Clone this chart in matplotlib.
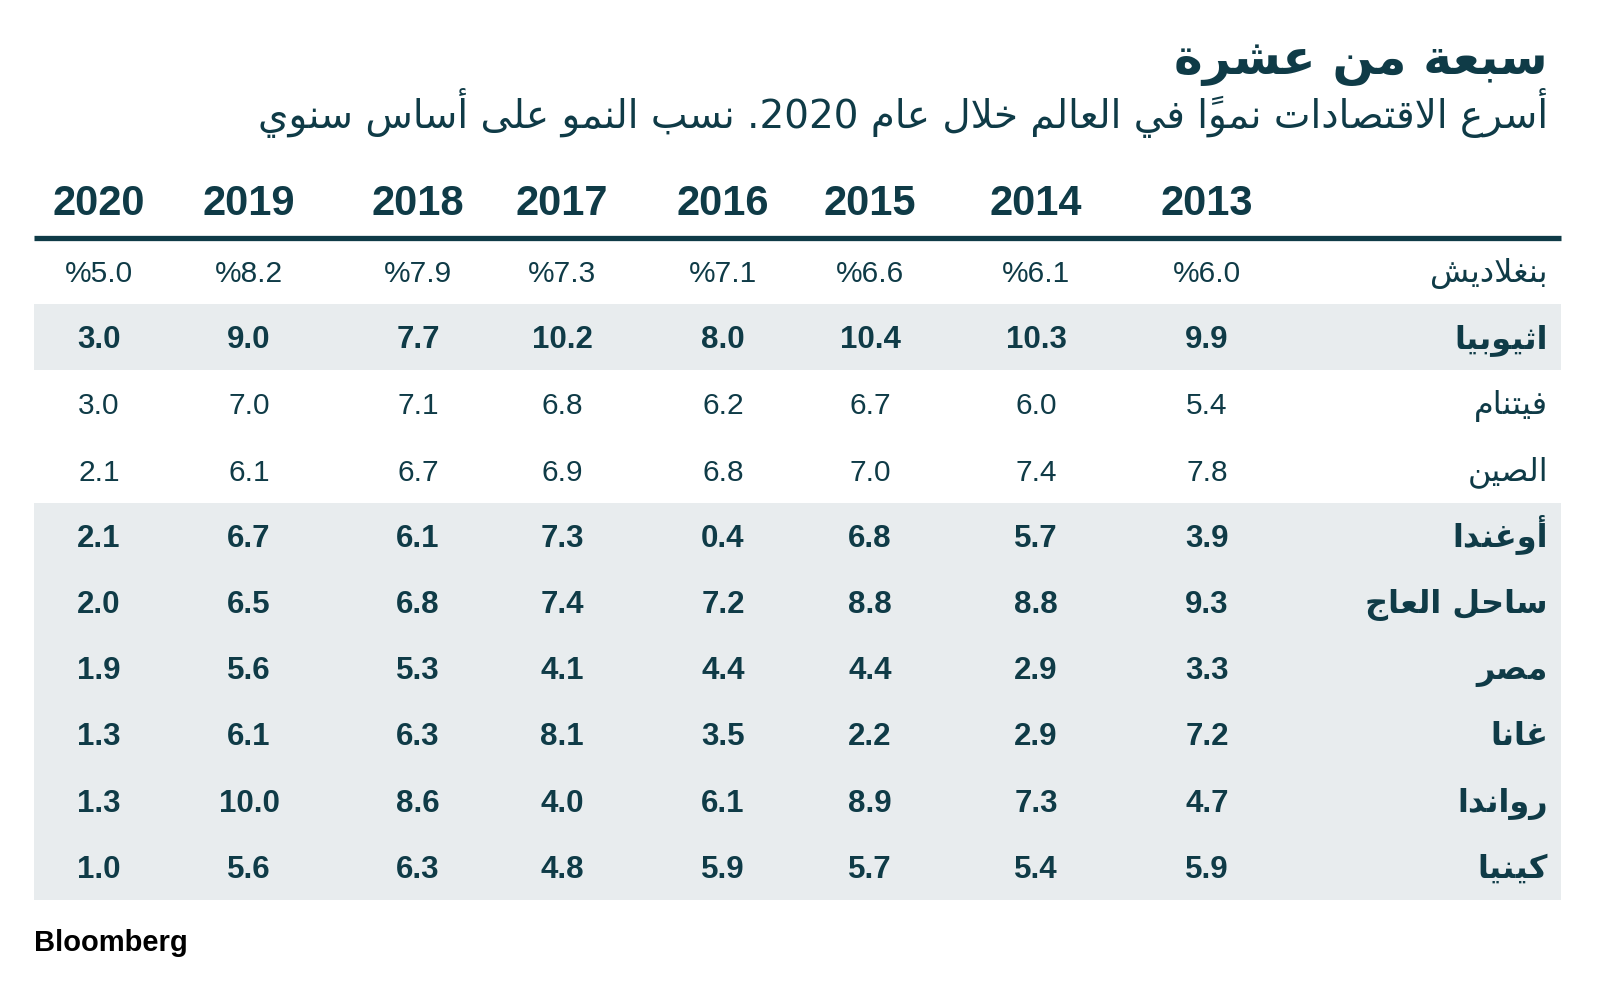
import matplotlib
matplotlib.use("Agg")
import matplotlib.pyplot as plt

# ---------------- data ----------------
title = "سبعة من عشرة"
subtitle = "أسرع الاقتصادات نمواً في العالم خلال عام 2020. نسب النمو على أساس سنوي"
years = [2013, 2014, 2015, 2016, 2017, 2018, 2019, 2020]
countries = ["بنغلاديش", "اثيوبيا", "فيتنام", "الصين", "أوغندا",
             "ساحل العاج", "مصر", "غانا", "رواندا", "كينيا"]
bangladesh = [6.0, 6.1, 6.6, 7.1, 7.3, 7.9, 8.2, 5.0]
ethiopia = [9.9, 10.3, 10.4, 8.0, 10.2, 7.7, 9.0, 3.0]
vietnam = [5.4, 6.0, 6.7, 6.2, 6.8, 7.1, 7.0, 3.0]
china = [7.8, 7.4, 7.0, 6.8, 6.9, 6.7, 6.1, 2.1]
uganda = [3.9, 5.7, 6.8, 0.4, 7.3, 6.1, 6.7, 2.1]
ivory_coast = [9.3, 8.8, 8.8, 7.2, 7.4, 6.8, 6.5, 2.0]
egypt = [3.3, 2.9, 4.4, 4.4, 4.1, 5.3, 5.6, 1.9]
ghana = [7.2, 2.9, 2.2, 3.5, 8.1, 6.3, 6.1, 1.3]
rwanda = [4.7, 7.3, 8.9, 6.1, 4.0, 8.6, 10.0, 1.3]
kenya = [5.9, 5.4, 5.7, 5.9, 4.8, 6.3, 5.6, 1.0]
values = [bangladesh, ethiopia, vietnam, china, uganda,
          ivory_coast, egypt, ghana, rwanda, kenya]
highlighted = [False, True, False, False, True, True, True, True, True, True]
source = "Bloomberg"

# ---------------- Arabic shaping (presentation forms + visual order) ----------------
_four = {0x0626: 0xFE89, 0x0628: 0xFE8F, 0x062A: 0xFE95, 0x062B: 0xFE99, 0x062C: 0xFE9D,
         0x062D: 0xFEA1, 0x062E: 0xFEA5, 0x0633: 0xFEB1, 0x0634: 0xFEB5, 0x0635: 0xFEB9,
         0x0636: 0xFEBD, 0x0637: 0xFEC1, 0x0638: 0xFEC5, 0x0639: 0xFEC9, 0x063A: 0xFECD,
         0x0641: 0xFED1, 0x0642: 0xFED5, 0x0643: 0xFED9, 0x0644: 0xFEDD, 0x0645: 0xFEE1,
         0x0646: 0xFEE5, 0x0647: 0xFEE9, 0x064A: 0xFEF1}
_two = {0x0622: 0xFE81, 0x0623: 0xFE83, 0x0624: 0xFE85, 0x0625: 0xFE87, 0x0627: 0xFE8D,
        0x0629: 0xFE93, 0x062F: 0xFEA9, 0x0630: 0xFEAB, 0x0631: 0xFEAD, 0x0632: 0xFEAF,
        0x0648: 0xFEED, 0x0649: 0xFEEF}
_lamalef = {0x0622: 0xFEF5, 0x0623: 0xFEF7, 0x0625: 0xFEF9, 0x0627: 0xFEFB}


def _is_mark(c):
    return 0x064B <= ord(c) <= 0x0652


def shape_ar(s):
    items = []
    i = 0
    while i < len(s):
        c = s[i]
        if ord(c) == 0x0644 and i + 1 < len(s) and ord(s[i + 1]) in _lamalef:
            items.append(("LA", ord(s[i + 1])))
            i += 2
        else:
            items.append(c)
            i += 1

    def dual(it):
        return not isinstance(it, tuple) and ord(it) in _four

    def letter(it):
        return isinstance(it, tuple) or ord(it) in _four or ord(it) in _two

    out = []
    n = len(items)
    for k, it in enumerate(items):
        if not isinstance(it, tuple) and _is_mark(it):
            out.append(it)
            continue
        if not letter(it):
            out.append(it)
            continue
        p = k - 1
        while p >= 0 and not isinstance(items[p], tuple) and _is_mark(items[p]):
            p -= 1
        q = k + 1
        while q < n and not isinstance(items[q], tuple) and _is_mark(items[q]):
            q += 1
        prev_j = p >= 0 and dual(items[p])
        if isinstance(it, tuple):
            base = _lamalef[it[1]]
            out.append(chr(base + (1 if prev_j else 0)))
            continue
        cp = ord(it)
        if cp in _four:
            next_j = q < n and letter(items[q])
            base = _four[cp]
            if prev_j and next_j:
                f = 3
            elif prev_j:
                f = 1
            elif next_j:
                f = 2
            else:
                f = 0
            out.append(chr(base + f))
        else:
            base = _two[cp]
            out.append(chr(base + (1 if prev_j else 0)))
    shaped = "".join(out)
    clusters = []
    for c in shaped:
        if clusters and _is_mark(c):
            clusters[-1] += c
        else:
            clusters.append(c)

    def ltr(idx):
        c = clusters[idx]
        if c.isascii() and c.isalnum():
            return True
        if c in ".," and 0 < idx < len(clusters) - 1:
            return clusters[idx - 1].isdigit() and clusters[idx + 1].isdigit()
        return False
    runs = []
    for idx, c in enumerate(clusters):
        t = ltr(idx)
        if runs and runs[-1][0] == t:
            runs[-1][1].append(c)
        else:
            runs.append([t, [c]])
    vis = []
    for t, cl in reversed(runs):
        vis.append("".join(cl) if t else "".join(reversed(cl)))
    return "".join(vis)


# ---------------- layout ----------------
DARK = "#0f3b47"
SHADE = "#e8ecee"
AR = ["DejaVu Sans"]
NUM = ["Liberation Sans", "DejaVu Sans"]

col_x = [1207, 1036, 870, 723, 562, 418, 249, 99]
row_y0, row_dy = 271, 66.2
x_left, x_right = 34, 1561
label_x = 1548

fig = plt.figure(figsize=(16, 9.88), dpi=100)
ax = fig.add_axes([0, 0, 1, 1])
ax.set_xlim(0, 1600)
ax.set_ylim(988, 0)
ax.axis("off")

# title / subtitle
ax.text(label_x, 74, shape_ar(title), ha="right", va="baseline",
        fontsize=35, fontweight="bold", color=DARK, family=AR)
ax.text(label_x, 128, shape_ar(subtitle), ha="right", va="baseline",
        fontsize=28, color=DARK, family=AR)

# header
for x, yr in zip(col_x, years):
    ax.text(x, 215, str(yr), ha="center", va="baseline", fontsize=30,
            fontweight="bold", color=DARK, family=NUM)
ax.plot([x_left, x_right], [238, 238], color=DARK, lw=3.8, solid_capstyle="butt")

# rows
for i, (name, vals, hl) in enumerate(zip(countries, values, highlighted)):
    yc = row_y0 + i * row_dy
    if hl:
        ax.fill_between([x_left, x_right], yc - row_dy / 2, yc + row_dy / 2,
                        color=SHADE, lw=0, zorder=0)
    w = "bold" if hl else "normal"
    ax.text(label_x, yc + 11, shape_ar(name), ha="right", va="baseline",
            fontsize=23, fontweight=w, color=DARK, family=AR)
    for x, v in zip(col_x, vals):
        lab = f"%{v:.1f}" if i == 0 else f"{v:.1f}"
        ax.text(x, yc + 11, lab, ha="center", va="baseline",
                fontsize=22.5 if hl else 21.5,
                fontweight=w, color=DARK, family=NUM)

ax.text(x_left, 951, source, ha="left", va="baseline", fontsize=21,
        fontweight="bold", color="black", family=NUM)

fig.savefig("out.png", dpi=100, facecolor="white")
